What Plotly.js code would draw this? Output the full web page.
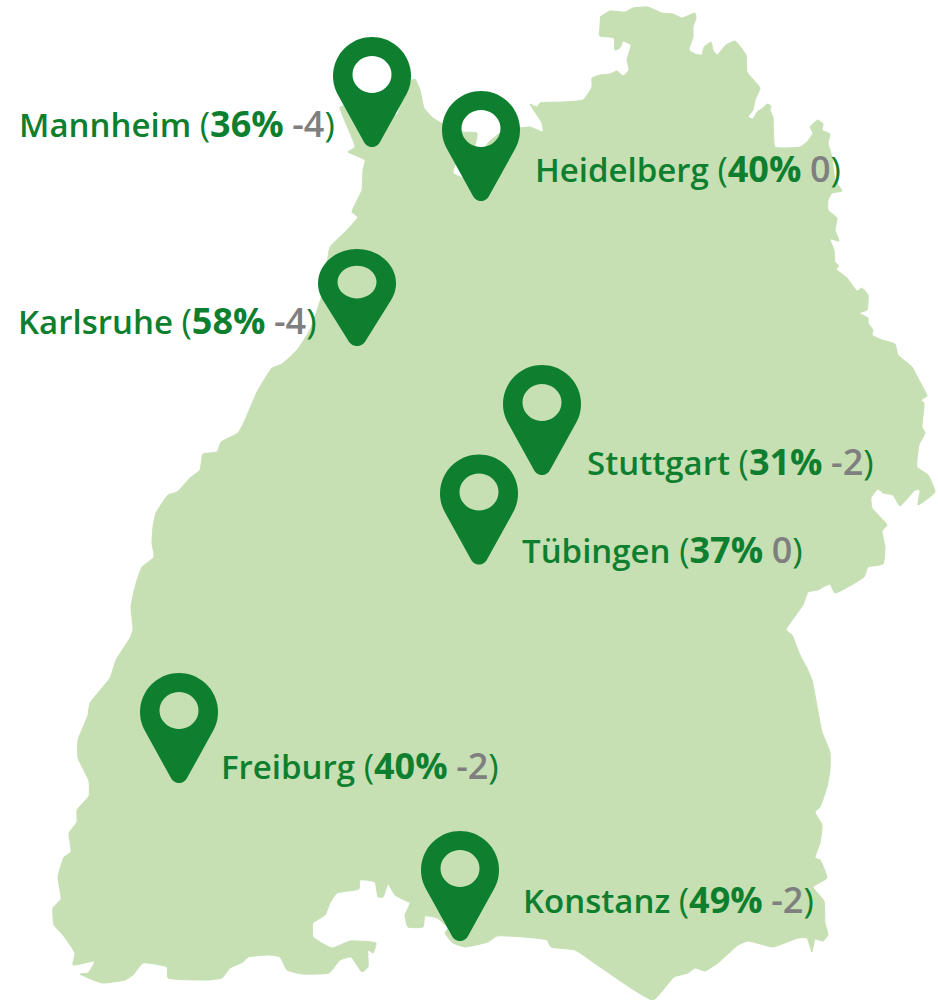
<!DOCTYPE html>
<html><head><meta charset="utf-8">
<script src="https://cdn.plot.ly/plotly-3.0.1.min.js"></script>
<style>html,body{margin:0;padding:0;background:#fff}</style></head>
<body><div id="chart" style="width:938px;height:1000px"></div>
<script>
const cities=["Mannheim","Heidelberg","Karlsruhe","Stuttgart","Tübingen","Freiburg","Konstanz"];
const shares=[36,40,58,31,37,40,49];
const changes=[-4,0,-4,-2,0,-2,-2];
const pinX=[372,481,357,542,479,179,460];
const pinTop=[37,91,249,365,454.5,673,831];
const pinHeight=[110,110,97,110,110,110,110];
const labelX=[19,535,18,587,522,221,523];
const labelY=[129,174,326,467,555,771,905];
const outlineX=[600,610,625,633,648,662,673,682,695,696,693,693,689,695,702,704,711,713,717,726,735,746,747,760,755,753,748,753,757,763,767,771,770,773,775,800,807,813,810,818,823,822,830,828,832,835,842,832,828,828,837,835,839,830,834,835,839,836,847,857,862,868,867,859,868,868,873,872,882,895,898,912,920,927,921,924,922,925,919,917,928,935,918,920,915,900,893,883,878,871,872,887,882,885,883,868,864,835,830,825,818,808,803,786,792,800,807,812,822,830,830,827,820,815,822,820,815,820,827,813,824,825,828,823,815,812,807,798,773,748,738,718,705,695,688,674,653,600,575,551,547,497,488,465,453,445,448,437,425,423,408,405,410,402,395,388,383,378,375,360,359,337,330,325,313,313,332,350,376,373,368,368,362,351,340,329,302,287,280,270,248,243,230,222,208,168,167,143,133,125,102,80,88,95,73,75,63,54,53,61,58,64,71,69,77,77,89,89,78,78,88,90,110,116,130,133,131,135,142,154,152,153,156,168,177,190,200,203,217,221,238,245,257,272,282,297,310,322,328,330,347,358,352,362,363,365,348,355,340,350,390,397,402,412,415,420,424,433,443,463,477,475,468,455,453,463,470,480,488,500,520,530,543,542,530,537,540,562,583,592,592,600,610,617,623,629,627,631,623,620,615,614,600,599];
const outlineY=[17,11,12,8,7,13,14,18,13,18,27,37,50,54,55,47,42,50,55,45,41,55,72,88,100,110,117,119,112,108,104,106,110,117,147,147,142,133,127,120,124,130,134,143,157,180,191,193,200,210,218,230,241,239,250,262,266,269,278,291,288,295,310,313,318,323,330,335,340,344,355,367,382,396,400,403,427,433,445,467,475,492,505,490,490,506,495,493,489,498,508,525,531,547,564,567,577,593,584,586,590,592,605,630,635,655,668,680,732,752,770,787,807,812,825,843,858,860,878,887,901,923,935,941,939,952,938,938,947,941,945,963,971,968,973,977,1000,967,950,947,940,936,942,947,943,933,928,918,916,927,927,915,903,899,895,884,897,897,882,880,889,893,903,915,923,937,948,941,943,953,950,967,972,957,960,973,974,970,957,955,957,962,968,978,980,978,967,963,975,980,983,974,973,961,965,953,935,925,908,899,877,857,852,833,822,810,796,781,758,740,715,703,678,660,638,630,607,587,567,557,543,527,513,495,492,478,470,454,452,442,433,420,392,368,364,350,330,295,257,247,230,217,212,190,170,160,152,147,107,105,110,115,100,80,79,90,108,118,124,132,133,145,152,165,173,178,178,160,143,133,128,127,132,123,104,107,103,102,100,87,78,75,74,71,76,70,60,45,41,48,50,38,36,33];
const mapColor="#C6E0B4",pinColor="#0E7F2F",grey="#7F7F7F";

// The pin glyph: round head, rounded tip, and a hole wound the opposite way.
function pinPath(cx,top,h){
  const R=39,r=9,s=h/110,cy=39,d=62,a=Math.asin((R-r)/d),xs=[],ys=[],N=48;
  const py=v=>top+s*v;
  for(let i=0;i<=N;i++){const t=Math.PI-a+(Math.PI+2*a)*i/N;xs.push(cx+R*Math.cos(t));ys.push(py(cy+R*Math.sin(t)));}
  for(let i=0;i<=16;i++){const t=a+(Math.PI-2*a)*i/16;xs.push(cx+r*Math.cos(t));ys.push(py(cy+d+r*Math.sin(t)));}
  xs.push(null);ys.push(null);
  for(let i=0;i<=40;i++){const t=-2*Math.PI*i/40;xs.push(cx+19.5*Math.cos(t));ys.push(py(cy-1.5+18.5*Math.sin(t)));}
  return [xs,ys];
}
const fmt=v=>v===0?"0":"-"+Math.abs(v);
const thin='font-weight:400;font-size:35px';
const big='font-size:36px';
const labels=cities.map((c,i)=>`${c} <span style="${thin}">(</span><span style="${big};font-weight:700">${shares[i]}%</span> <span style="${big};color:${grey}">${fmt(changes[i])}</span><span style="${thin}">)</span>`);

const traces=[{type:"scatter",mode:"lines",name:"Baden-Württemberg",x:outlineX,y:outlineY,fill:"toself",fillcolor:mapColor,line:{color:mapColor,width:1,shape:"spline",smoothing:0.4},hoverinfo:"skip"}];
cities.forEach((c,i)=>{const [xs,ys]=pinPath(pinX[i],pinTop[i],pinHeight[i]);
  traces.push({type:"scatter",mode:"none",name:c,x:xs,y:ys,fill:"toself",fillcolor:pinColor,hoverinfo:"skip"});});
traces.push({type:"scatter",mode:"text",x:labelX,y:labelY,text:labels,textposition:"middle right",cliponaxis:false,
  textfont:{family:"Open Sans",size:33,color:pinColor,weight:600},hoverinfo:"skip"});

Plotly.newPlot("chart",traces,{
  width:938,height:1000,margin:{l:0,r:0,t:0,b:0},showlegend:false,
  paper_bgcolor:"#fff",plot_bgcolor:"#fff",
  xaxis:{range:[0,938],visible:false,fixedrange:true},
  yaxis:{range:[1000,0],visible:false,fixedrange:true}
},{displayModeBar:false,staticPlot:true});
</script>
</body></html>
